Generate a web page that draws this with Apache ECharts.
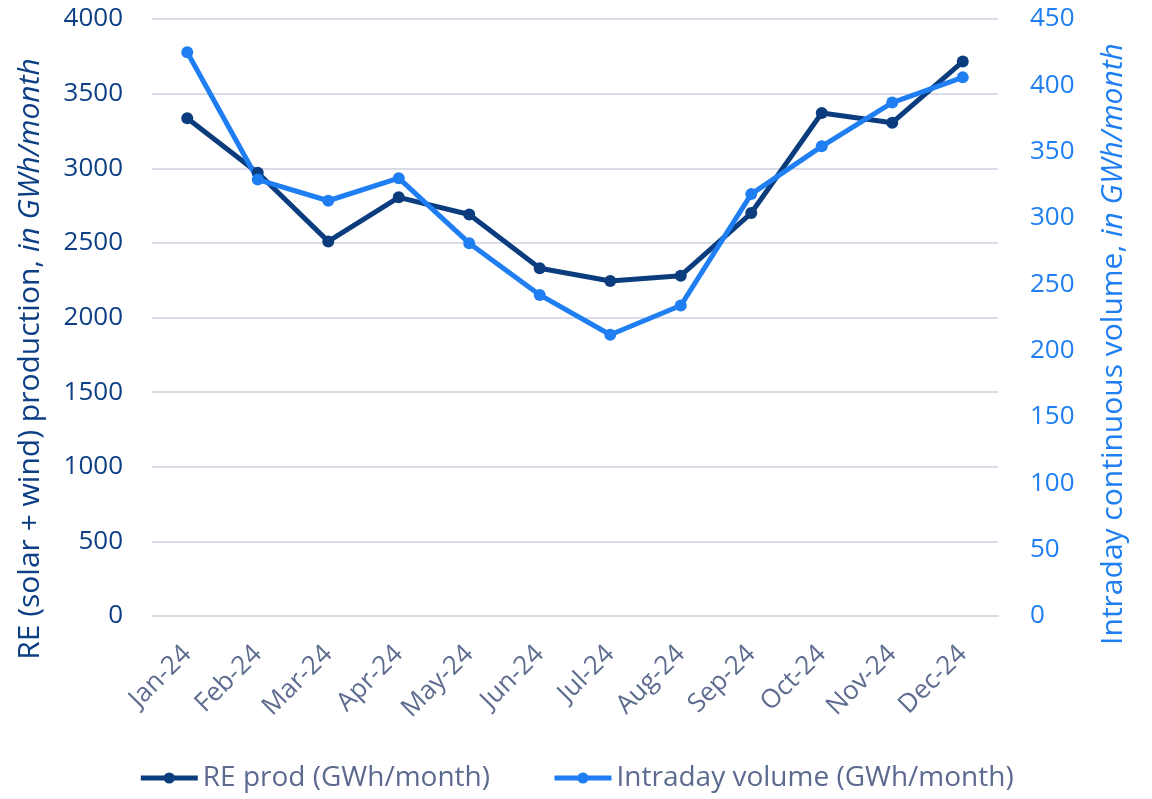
<!DOCTYPE html>
<html>
<head>
<meta charset="utf-8">
<script src="https://cdn.jsdelivr.net/npm/echarts@6/dist/echarts.min.js"></script>
<style>
  html, body { margin: 0; padding: 0; background: #fff; }
  #chart { width: 1152px; height: 799px; }
</style>
</head>
<body>
<div id="chart"></div>
<script>
const months = ['Jan-24', 'Feb-24', 'Mar-24', 'Apr-24', 'May-24', 'Jun-24',
  'Jul-24', 'Aug-24', 'Sep-24', 'Oct-24', 'Nov-24', 'Dec-24'];
const reProd = [3335, 2970, 2510, 2805, 2690, 2330, 2245, 2280, 2700, 3370, 3305, 3715];
const intradayVol = [425, 329, 313, 330, 281, 242, 212, 234, 318, 354, 387, 406];

const darkBlue = '#0b3d7e';
const lightBlue = '#1f7ff2';
const fontFam = '"Open Sans", sans-serif';

let chart = echarts.init(document.getElementById('chart'));
chart.setOption({
  animation: false,
  textStyle: { fontFamily: fontFam },
  grid: { left: 152, right: 154, top: 19, bottom: 183 },
  legend: {
    bottom: 2,
    left: 'center',
    itemWidth: 57,
    itemHeight: 14,
    itemGap: 62,
    lineStyle: { width: 5 },
    textStyle: { fontSize: 28, color: '#5b6a8e', fontFamily: fontFam },
    data: ['RE prod (GWh/month)', 'Intraday volume (GWh/month)']
  },
  xAxis: {
    type: 'category',
    data: months,
    boundaryGap: true,
    axisLine: { show: true, lineStyle: { color: '#d9dce6', width: 2 } },
    axisTick: { show: false },
    axisLabel: { rotate: 45, fontSize: 26, color: '#5e6c8f', margin: 34 }
  },
  yAxis: [{
    type: 'value',
    min: 0, max: 4000, interval: 500,
    axisLine: { show: false },
    axisTick: { show: false },
    splitLine: { lineStyle: { color: '#d9dce6', width: 2 } },
    axisLabel: { fontSize: 26, color: '#0d3f85', margin: 29, formatter: v => String(v) }
  }, {
    type: 'value',
    min: 0, max: 450, interval: 50,
    axisLine: { show: false },
    axisTick: { show: false },
    splitLine: { show: false },
    axisLabel: { fontSize: 26, color: lightBlue, margin: 32, formatter: v => String(v) }
  }],
  graphic: [{
    type: 'text',
    x: 30, y: 359,
    rotation: Math.PI / 2,
    style: {
      text: '{a|RE (solar + wind) production, }{b|in GWh/month}',
      align: 'center', verticalAlign: 'middle',
      rich: {
        a: { fontSize: 30, fill: '#0d3f85', fontFamily: fontFam },
        b: { fontSize: 30, fill: '#0d3f85', fontStyle: 'italic', fontFamily: fontFam }
      }
    }
  }, {
    type: 'text',
    x: 1113, y: 344,
    rotation: Math.PI / 2,
    style: {
      text: '{a|Intraday continuous volume, }{b|in GWh/month}',
      align: 'center', verticalAlign: 'middle',
      rich: {
        a: { fontSize: 30, fill: lightBlue, fontFamily: fontFam },
        b: { fontSize: 30, fill: lightBlue, fontStyle: 'italic', fontFamily: fontFam }
      }
    }
  }],
  series: [{
    name: 'RE prod (GWh/month)',
    type: 'line',
    yAxisIndex: 0,
    data: reProd,
    symbol: 'circle',
    symbolSize: 12,
    itemStyle: { color: darkBlue },
    lineStyle: { width: 5, color: darkBlue }
  }, {
    name: 'Intraday volume (GWh/month)',
    type: 'line',
    yAxisIndex: 1,
    data: intradayVol,
    symbol: 'circle',
    symbolSize: 12,
    itemStyle: { color: lightBlue },
    lineStyle: { width: 5, color: lightBlue }
  }]
});
</script>
</body>
</html>
